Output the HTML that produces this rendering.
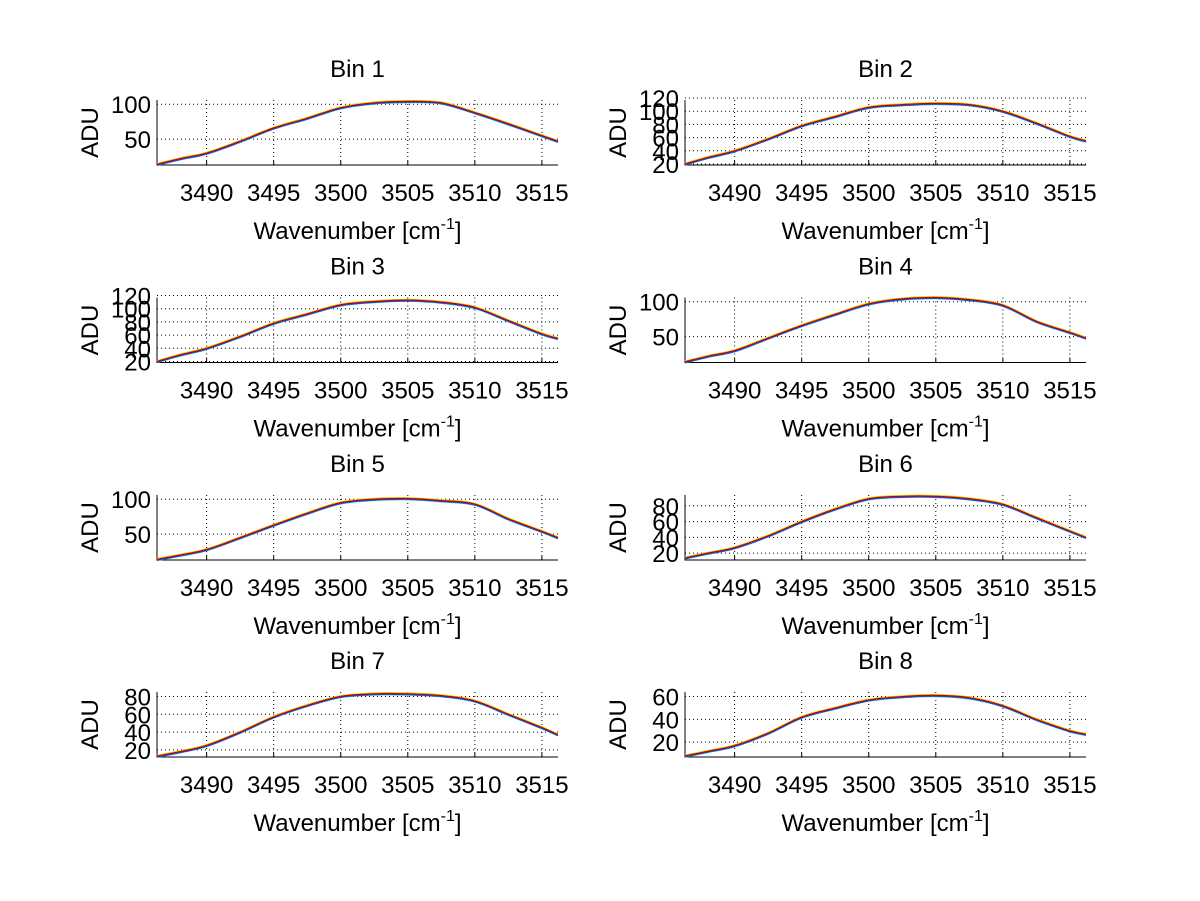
<!DOCTYPE html>
<html><head><meta charset="utf-8"><style>
html,body{margin:0;padding:0;background:#fff;}
svg{display:block;font-family:"Liberation Sans",Arial,sans-serif;}
</style></head><body>
<svg id="fig" width="1200" height="901" viewBox="0 0 1200 901" xmlns="http://www.w3.org/2000/svg">
<rect width="1200" height="901" fill="#fff"/>
</svg>
<script>
const xSamples=[3486.3,3488,3490,3492.5,3495,3497.5,3500,3502.5,3505,3507.5,3510,3512.5,3515,3516.2];
const xTicks=[3490,3495,3500,3505,3510,3515];
const binTitles=["Bin 1","Bin 2","Bin 3","Bin 4","Bin 5","Bin 6","Bin 7","Bin 8"];
const bin1=[14,22,30,47,66,80,95,102,104,102,88,72,55,47];
const bin2=[20,30,40,58,78,92,106,110,112,110,100,82,62,55];
const bin3=[20,30,40,58,78,92,106,111,113,110,102,82,62,55];
const bin4=[14,22,30,48,66,82,97,104,106,103,95,72,56,48];
const bin5=[14,20,28,45,63,80,95,100,101,98,93,72,54,45];
const bin6=[14,20,27,42,60,76,89,92,92,89,82,65,48,40];
const bin7=[13,18,25,40,57,70,80,83,83,81,75,60,45,37];
const bin8=[8,12,17,28,42,50,57,60,61,59,52,40,30,27];
const binValues=[bin1,bin2,bin3,bin4,bin5,bin6,bin7,bin8];
const yTicksA=[50,100];
const yTicksB=[20,40,60,80,100,120];
const yTicksC=[20,40,60,80];
const yTicksD=[20,40,60];
const binYTicks=[yTicksA,yTicksB,yTicksB,yTicksA,yTicksA,yTicksC,yTicksC,yTicksD];
const binYMin=[13,18.5,18.5,13,13,11.3,12,7];
const binYMax=[106,117,117,106,106,93.7,85,64];

const NS="http://www.w3.org/2000/svg";
const fig=document.getElementById('fig');
function mk(tag,attrs,parent){const e=document.createElementNS(NS,tag);for(const k in attrs)e.setAttribute(k,attrs[k]);(parent||fig).appendChild(e);return e;}

const W=401,H=65,FS=24;
const lefts=[157,685];
const bottoms=[165,362.5,560,757];
const xmin=3486.3,xmax=3516.2;

function smoothPath(pts){
  let d="M"+pts[0][0].toFixed(1)+","+pts[0][1].toFixed(1);
  for(let i=0;i<pts.length-1;i++){
    const p0=pts[Math.max(0,i-1)],p1=pts[i],p2=pts[i+1],p3=pts[Math.min(pts.length-1,i+2)];
    const c1=[p1[0]+(p2[0]-p0[0])/6,p1[1]+(p2[1]-p0[1])/6];
    const c2=[p2[0]-(p3[0]-p1[0])/6,p2[1]-(p3[1]-p1[1])/6];
    d+=" C"+c1[0].toFixed(1)+","+c1[1].toFixed(1)+" "+c2[0].toFixed(1)+","+c2[1].toFixed(1)+" "+p2[0].toFixed(1)+","+p2[1].toFixed(1);
  }
  return d;
}

for(let b=0;b<8;b++){
  const col=b%2,row=Math.floor(b/2);
  const L=lefts[col],B=bottoms[row],T=B-H;
  const ymin=binYMin[b],ymax=binYMax[b];
  const sx=v=>L+(v-xmin)/(xmax-xmin)*W;
  const sy=v=>B-(v-ymin)/(ymax-ymin)*H;
  const g=mk('g',{});
  
  
  for(const t of xTicks){
    const l=mk('line',{x1:sx(t),x2:sx(t),y1:T,y2:B,stroke:'#000','stroke-width':1,'stroke-dasharray':'1,3'},g);
    
    
    const tk=mk('line',{x1:sx(t),x2:sx(t),y1:B,y2:B-4,stroke:'#000'},g);
    
    
    const tx=mk('text',{x:sx(t),y:B+36,'text-anchor':'middle','font-size':FS,fill:'#000'},g);
    tx.textContent=t;
    
    
  }
  for(const t of binYTicks[b]){
    if(t<ymin||t>ymax+3)continue;
    const l=mk('line',{x1:L,x2:L+W,y1:sy(t),y2:sy(t),stroke:'#000','stroke-width':1,'stroke-dasharray':'1,3'},g);
    
    
    const tx=mk('text',{x:L-6,y:sy(t)+9,'text-anchor':'end','font-size':FS,fill:'#000'},g);
    tx.textContent=t;
    
    
  }
  const ax=mk('path',{d:`M${L},${T} L${L},${B} L${L+W},${B}`,fill:'none',stroke:'#000','stroke-width':1},g);
  
  
  const vals=binValues[b];
  const pts=xSamples.map((x,i)=>[sx(x),sy(vals[i])]);
  const colors=['#00c0c0','#2040ff','#e0d000','#c00000'];
  const offs=[1.2,0.8,-0.8,0];
  colors.forEach((c,k)=>{
    const p=mk('path',{d:smoothPath(pts.map(q=>[q[0],q[1]+offs[k]])),fill:'none',stroke:c,'stroke-width':1.2},g);
    
    
  });
  const ti=mk('text',{x:L+W/2,y:T-23,'text-anchor':'middle','font-size':FS,fill:'#000'},g);
  ti.textContent=binTitles[b];
  
  
  const yl=mk('text',{x:0,y:0,'text-anchor':'middle','font-size':FS,fill:'#000',transform:`translate(${L-59},${T+H/2}) rotate(-90)`},g);
  yl.textContent='ADU';
  
  
  const xl=mk('text',{x:L+W/2,y:B+74,'text-anchor':'middle','font-size':FS,fill:'#000'},g);
  
  
  xl.appendChild(document.createTextNode('Wavenumber [cm'));
  const sup=mk('tspan',{dy:-10,'font-size':16},xl);
  sup.textContent='-1';
  const cl=mk('tspan',{dy:10},xl);
  cl.textContent=']';
}
</script>
</body></html>
